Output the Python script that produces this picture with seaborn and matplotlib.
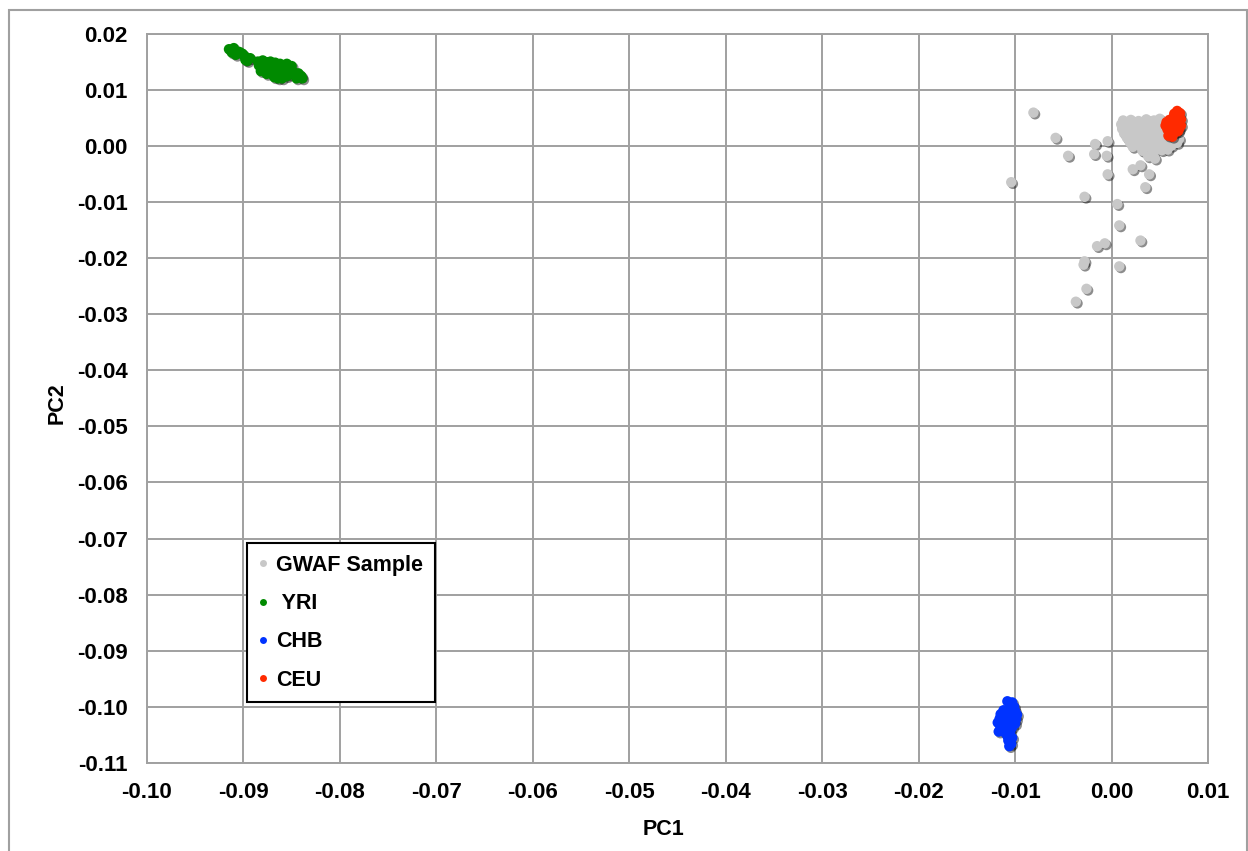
import numpy as np
import pandas as pd
import matplotlib
matplotlib.use("Agg")
import matplotlib.pyplot as plt
import matplotlib.patheffects as pe
from matplotlib.lines import Line2D
from matplotlib.patches import Rectangle
import seaborn as sns

# ---------------- data ----------------
gwaf_pc1 = [-0.0081, -0.0058, -0.0045, -0.0104, -0.0017, -0.0004, -0.0018, -0.0005,
            -0.0004, -0.0028, 0.0006, 0.0008, -0.0015, -0.0007, 0.0030, -0.0028,
            -0.0029, 0.0008, -0.0026, -0.0037, 0.0022, 0.0030, 0.0039, 0.0035,
            0.0038, 0.0045,
            0.0012, 0.0020, 0.0028, 0.0036, 0.0044, 0.0050,
            0.0010, 0.0018, 0.0026, 0.0034, 0.0042, 0.0049, 0.0055,
            0.0011, 0.0019, 0.0027, 0.0035, 0.0043, 0.0050, 0.0057,
            0.0013, 0.0021, 0.0029, 0.0037, 0.0045, 0.0052, 0.0060,
            0.0016, 0.0024, 0.0032, 0.0040, 0.0048, 0.0056, 0.0064,
            0.0019, 0.0027, 0.0035, 0.0043, 0.0051, 0.0059, 0.0066,
            0.0022, 0.0030, 0.0040, 0.0047, 0.0055, 0.0062,
            0.0032, 0.0044, 0.0052, 0.0058, 0.0068, 0.0070]
gwaf_pc2 = [0.0059, 0.0014, -0.0018, -0.0065, 0.0003, 0.0008, -0.0015, -0.0018,
            -0.0051, -0.0091, -0.0104, -0.0142, -0.0179, -0.0174, -0.0169, -0.0206,
            -0.0212, -0.0215, -0.0255, -0.0278, -0.0042, -0.0035, -0.0051, -0.0074,
            -0.0019, -0.0023,
            0.0045, 0.0046, 0.0044, 0.0047, 0.0045, 0.0048,
            0.0038, 0.0037, 0.0039, 0.0038, 0.0036, 0.0039, 0.0041,
            0.0030, 0.0031, 0.0029, 0.0030, 0.0031, 0.0030, 0.0032,
            0.0022, 0.0021, 0.0023, 0.0022, 0.0021, 0.0023, 0.0024,
            0.0014, 0.0015, 0.0013, 0.0014, 0.0015, 0.0014, 0.0016,
            0.0006, 0.0007, 0.0005, 0.0006, 0.0007, 0.0006, 0.0008,
            -0.0002, -0.0001, -0.0003, -0.0002, -0.0001, 0.0000,
            -0.0009, -0.0010, -0.0008, -0.0007, 0.0005, 0.0012]

yri_pc1 = [-0.0915, -0.0910, -0.0904, -0.0908, -0.0899, -0.0893, -0.0896, -0.0898,
           -0.0912, -0.0901,
           -0.0885, -0.0884, -0.0880, -0.0879, -0.0881, -0.0876, -0.0875, -0.0877,
           -0.0872, -0.0871, -0.0870, -0.0872, -0.0867, -0.0866, -0.0865, -0.0868,
           -0.0862, -0.0861, -0.0860, -0.0863, -0.0857, -0.0856, -0.0858, -0.0855,
           -0.0852, -0.0851, -0.0853, -0.0848, -0.0846, -0.0843, -0.0840, -0.0839,
           -0.0845, -0.0882, -0.0876, -0.0868, -0.0860, -0.0855, -0.0850, -0.0864]
yri_pc2 = [0.0172, 0.0174, 0.0167, 0.0162, 0.0160, 0.0156, 0.0151, 0.0153,
           0.0166, 0.0164,
           0.0150, 0.0143, 0.0152, 0.0146, 0.0139, 0.0149, 0.0142, 0.0135,
           0.0150, 0.0144, 0.0137, 0.0130, 0.0148, 0.0141, 0.0134, 0.0127,
           0.0146, 0.0139, 0.0132, 0.0125, 0.0143, 0.0136, 0.0129, 0.0124,
           0.0140, 0.0133, 0.0127, 0.0131, 0.0125, 0.0129, 0.0124, 0.0120,
           0.0120, 0.0133, 0.0128, 0.0122, 0.0120, 0.0146, 0.0142, 0.0120]

chb_pc1 = [-0.0108, -0.0103, -0.0105, -0.0101,
           -0.0112, -0.0106, -0.0100, -0.0115, -0.0109, -0.0103, -0.0098,
           -0.0116, -0.0110, -0.0104, -0.0099, -0.0118, -0.0112, -0.0106, -0.0100,
           -0.0115, -0.0109, -0.0103, -0.0117, -0.0111, -0.0105, -0.0108, -0.0103,
           -0.0107, -0.0104, -0.0106]
chb_pc2 = [-0.0990, -0.0992, -0.0998, -0.1000,
           -0.1006, -0.1005, -0.1007, -0.1013, -0.1012, -0.1013, -0.1014,
           -0.1021, -0.1020, -0.1021, -0.1022, -0.1028, -0.1029, -0.1028, -0.1030,
           -0.1036, -0.1037, -0.1036, -0.1044, -0.1045, -0.1044, -0.1052, -0.1055,
           -0.1060, -0.1066, -0.1070]

ceu_pc1 = [0.0068, 0.0071, 0.0065, 0.0070, 0.0064, 0.0072, 0.0060, 0.0067,
           0.0057, 0.0063, 0.0070, 0.0056, 0.0061, 0.0068, 0.0072, 0.0058,
           0.0064, 0.0070, 0.0060, 0.0066, 0.0059, 0.0063, 0.0069]
ceu_pc2 = [0.0062, 0.0058, 0.0057, 0.0052, 0.0050, 0.0047, 0.0046, 0.0045,
           0.0042, 0.0040, 0.0040, 0.0036, 0.0034, 0.0034, 0.0036, 0.0029,
           0.0028, 0.0030, 0.0023, 0.0024, 0.0018, 0.0016, 0.0026]

groups = ["GWAF Sample", "YRI", "CHB", "CEU"]
legend_labels = ["GWAF Sample", " YRI", "CHB", "CEU"]
colors = {"GWAF Sample": "#C8C8C8", "YRI": "#008A00", "CHB": "#0033FF", "CEU": "#FF2A00"}
x_ticks = [-0.10, -0.09, -0.08, -0.07, -0.06, -0.05, -0.04, -0.03, -0.02, -0.01, 0.00, 0.01]
y_ticks = [0.02, 0.01, 0.00, -0.01, -0.02, -0.03, -0.04, -0.05, -0.06, -0.07, -0.08,
           -0.09, -0.10, -0.11]

df = pd.concat([
    pd.DataFrame({"PC1": gwaf_pc1, "PC2": gwaf_pc2, "grp": "GWAF Sample"}),
    pd.DataFrame({"PC1": yri_pc1, "PC2": yri_pc2, "grp": "YRI"}),
    pd.DataFrame({"PC1": chb_pc1, "PC2": chb_pc2, "grp": "CHB"}),
    pd.DataFrame({"PC1": ceu_pc1, "PC2": ceu_pc2, "grp": "CEU"}),
], ignore_index=True)

# ---------------- plot ----------------
sns.set_style("white")
plt.rcParams["font.family"] = ["Liberation Sans", "DejaVu Sans"]
plt.rcParams["font.weight"] = "bold"
plt.rcParams["text.color"] = "black"
plt.rcParams["axes.labelcolor"] = "black"

fig = plt.figure(figsize=(12.48, 8.51), dpi=100)
ax = fig.add_axes([147 / 1248, 1 - 763 / 851, (1208 - 147) / 1248, (763 - 33.5) / 851])

gridc = "#A0A0A0"
shadow = [pe.SimplePatchShadow(offset=(1.2, -1.2), shadow_rgbFace="black", alpha=0.45), pe.Normal()]
for g in groups:
    sub = df[df["grp"] == g]
    sns.scatterplot(data=sub, x="PC1", y="PC2", color=colors[g], s=56,
                    edgecolor="none", linewidth=0, ax=ax, legend=False, zorder=3)
    ax.collections[-1].set_path_effects(shadow)

ax.set_xlim(-0.10, 0.01)
ax.set_ylim(-0.11, 0.02)
ax.set_xticks(x_ticks)
ax.set_yticks(y_ticks)
ax.set_xticklabels([f"{v:.2f}" for v in x_ticks])
ax.set_yticklabels([f"{v:.2f}" for v in y_ticks])
ax.grid(True, color=gridc, linewidth=1.4, zorder=0)
ax.set_axisbelow(True)
for sp in ax.spines.values():
    sp.set_visible(True)
    sp.set_color(gridc)
    sp.set_linewidth(1.4)
ax.tick_params(axis="both", which="major", direction="out", length=5, width=1.4,
               color=gridc, labelcolor="black", labelsize=16, pad=9)
for lab in ax.get_xticklabels() + ax.get_yticklabels():
    lab.set_fontweight("bold")

ax.set_xlabel("PC1", fontsize=15.5, fontweight="bold", color="black")
ax.set_ylabel("PC2", fontsize=15.5, fontweight="bold", color="black")
ax.xaxis.set_label_coords((663 - 147) / 1061, -(819 - 763) / 729.5)
ax.yaxis.set_label_coords((68 - 147) / 1061, (763 - 403) / 729.5)

handles = [Line2D([0], [0], marker="o", linestyle="none", markersize=5,
                  markerfacecolor=colors[g], markeredgecolor="none") for g in groups]
leg = ax.legend(handles, legend_labels, loc="upper left",
                bbox_to_anchor=((247 - 147) / 1061, (763 - 543) / 729.5),
                borderaxespad=0, frameon=True, fancybox=False, framealpha=1,
                edgecolor="black", prop={"size": 15.5, "weight": "bold"},
                handlelength=0.4, handletextpad=0.4, labelspacing=0.8,
                borderpad=0.55)
leg.get_frame().set_linewidth(1.5)
for t in leg.get_texts():
    t.set_color("black")

fig.patches.append(Rectangle((9 / 1248, -0.05), (1247 - 9) / 1248, 0.05 + 1 - 10 / 851,
                             transform=fig.transFigure, fill=False,
                             edgecolor=gridc, linewidth=1.5))

fig.savefig("out.png", dpi=100)
